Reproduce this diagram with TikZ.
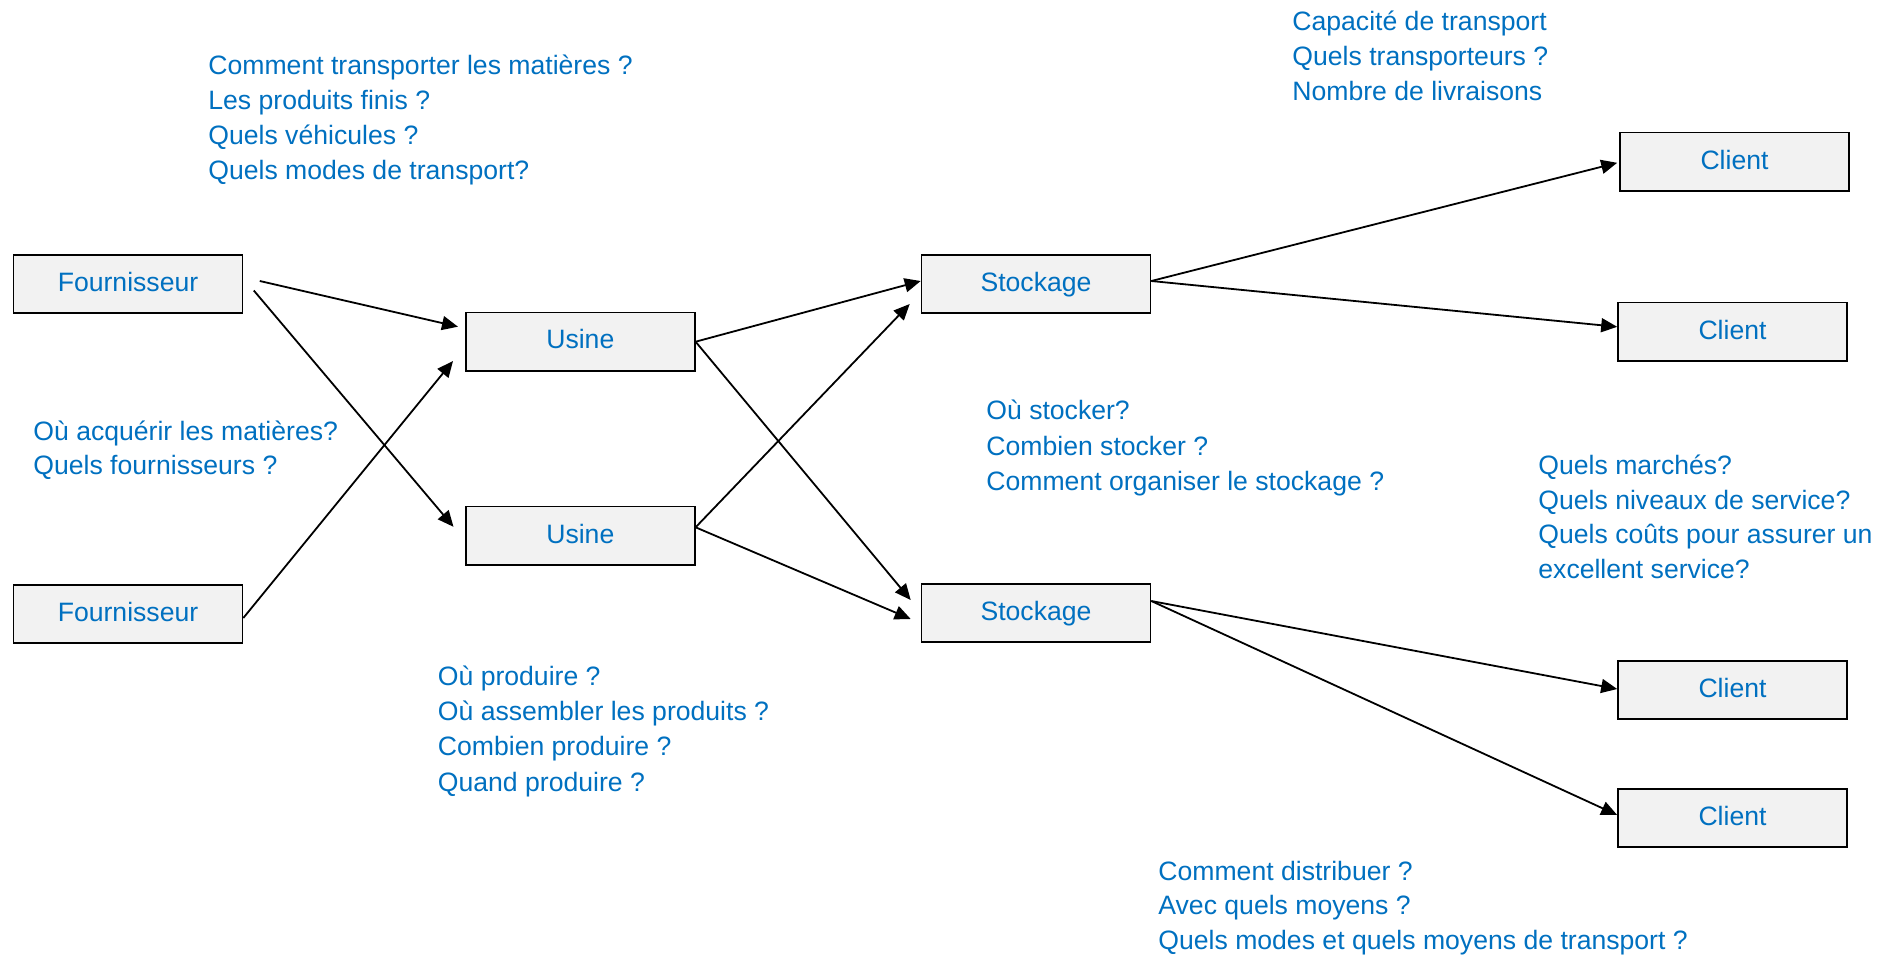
\documentclass[tikz,border=0pt]{standalone}
\usepackage{fontspec}
\setmainfont{Liberation Sans}
\usetikzlibrary{arrows.meta,calc}
\definecolor{qblue}{HTML}{0070C0}
\definecolor{boxgray}{HTML}{F2F2F2}
\begin{document}
\begin{tikzpicture}[x=0.5pt,y=-0.5pt,
  box/.style={draw=black,line width=0.8pt,fill=boxgray,minimum width=114.5pt,minimum height=29.2pt,inner sep=0pt,text height=9.6pt,text depth=2.4pt,font=\fontsize{13.3}{16}\selectfont,text=qblue},
  qtext/.style={anchor=base west,inner sep=0pt,font=\fontsize{13.3}{16}\selectfont,text=qblue},
  arr/.style={line width=0.9pt,-{Triangle[length=8pt,width=7pt]}}]
\useasboundingbox (0,0) rectangle (1892,955);

% boxes
\node[box] (f1) at (128,284) {Fournisseur};
\node[box] (f2) at (128,614) {Fournisseur};
\node[box] (u1) at (580.3,341.7) {Usine};
\node[box] (u2) at (580.3,535.8) {Usine};
\node[box] (s1) at (1036,284) {Stockage};
\node[box] (s2) at (1036,613) {Stockage};
\node[box] (c1) at (1734.5,161.8) {Client};
\node[box] (c2) at (1732.5,331.8) {Client};
\node[box] (c3) at (1732.5,690) {Client};
\node[box] (c4) at (1732.5,818) {Client};

% connectors
\draw[arr] ($(f1.east)+(16.5,-3)$) -- ($(u1.west)+(-7,-15)$);
\draw[arr] ($(f1.east)+(10.5,6.5)$) -- ($(u2.west)+(-11.5,-9)$);
\draw[arr] ($(f2.east)+(0,4)$) -- ($(u1.west)+(-12,19.3)$);
\draw[arr] (u1.east) -- ($(s1.west)+(0,-3)$);
\draw[arr] (u1.east) -- ($(s2.west)+(-10,-13)$);
\draw[arr] ($(u2.east)+(0,-8.5)$) -- ($(s1.west)+(-11,20)$);
\draw[arr] ($(u2.east)+(0,-8.5)$) -- ($(s2.west)+(-10,6)$);
\draw[arr] ($(s1.east)+(0,-3)$) -- ($(c1.west)+(-2,1)$);
\draw[arr] ($(s1.east)+(0,-3)$) -- ($(c2.west)+(0,-5)$);
\draw[arr] ($(s2.east)+(0,-12)$) -- ($(c3.west)+(0,-1)$);
\draw[arr] ($(s2.east)+(0,-12)$) -- ($(c4.west)+(0,-3)$);

% question blocks
\foreach \t [count=\i from 0] in {Comment transporter les matières ?,Les produits finis ?,Quels véhicules ?,Quels modes de transport?}
  \node[qtext] (qa\i) at (208,74+35*\i) {\t};
\foreach \t [count=\i from 0] in {Où acquérir les matières?,Quels fournisseurs ?}
  \node[qtext] (qb\i) at (33,440+34.5*\i) {\t};
\foreach \t [count=\i from 0] in {Capacité de transport,Quels transporteurs ?,Nombre de livraisons}
  \node[qtext] (qc\i) at (1292,30.7+34.8*\i) {\t};
\foreach \t [count=\i from 0] in {Où stocker?,Combien stocker ?,Comment organiser le stockage ?}
  \node[qtext] (qd\i) at (986,419.8+35.2*\i) {\t};
\foreach \t [count=\i from 0] in {Quels marchés?,Quels niveaux de service?,Quels coûts pour assurer un,excellent service?}
  \node[qtext] (qe\i) at (1538,474.3+34.8*\i) {\t};
\foreach \t [count=\i from 0] in {Où produire ?,Où assembler les produits ?,Combien produire ?,Quand produire ?}
  \node[qtext] (qf\i) at (437.5,685.7+35.1*\i) {\t};
\foreach \t [count=\i from 0] in {Comment distribuer ?,Avec quels moyens ?,Quels modes et quels moyens de transport ?}
  \node[qtext] (qg\i) at (1158,880+34.9*\i) {\t};
\end{tikzpicture}
\end{document}
